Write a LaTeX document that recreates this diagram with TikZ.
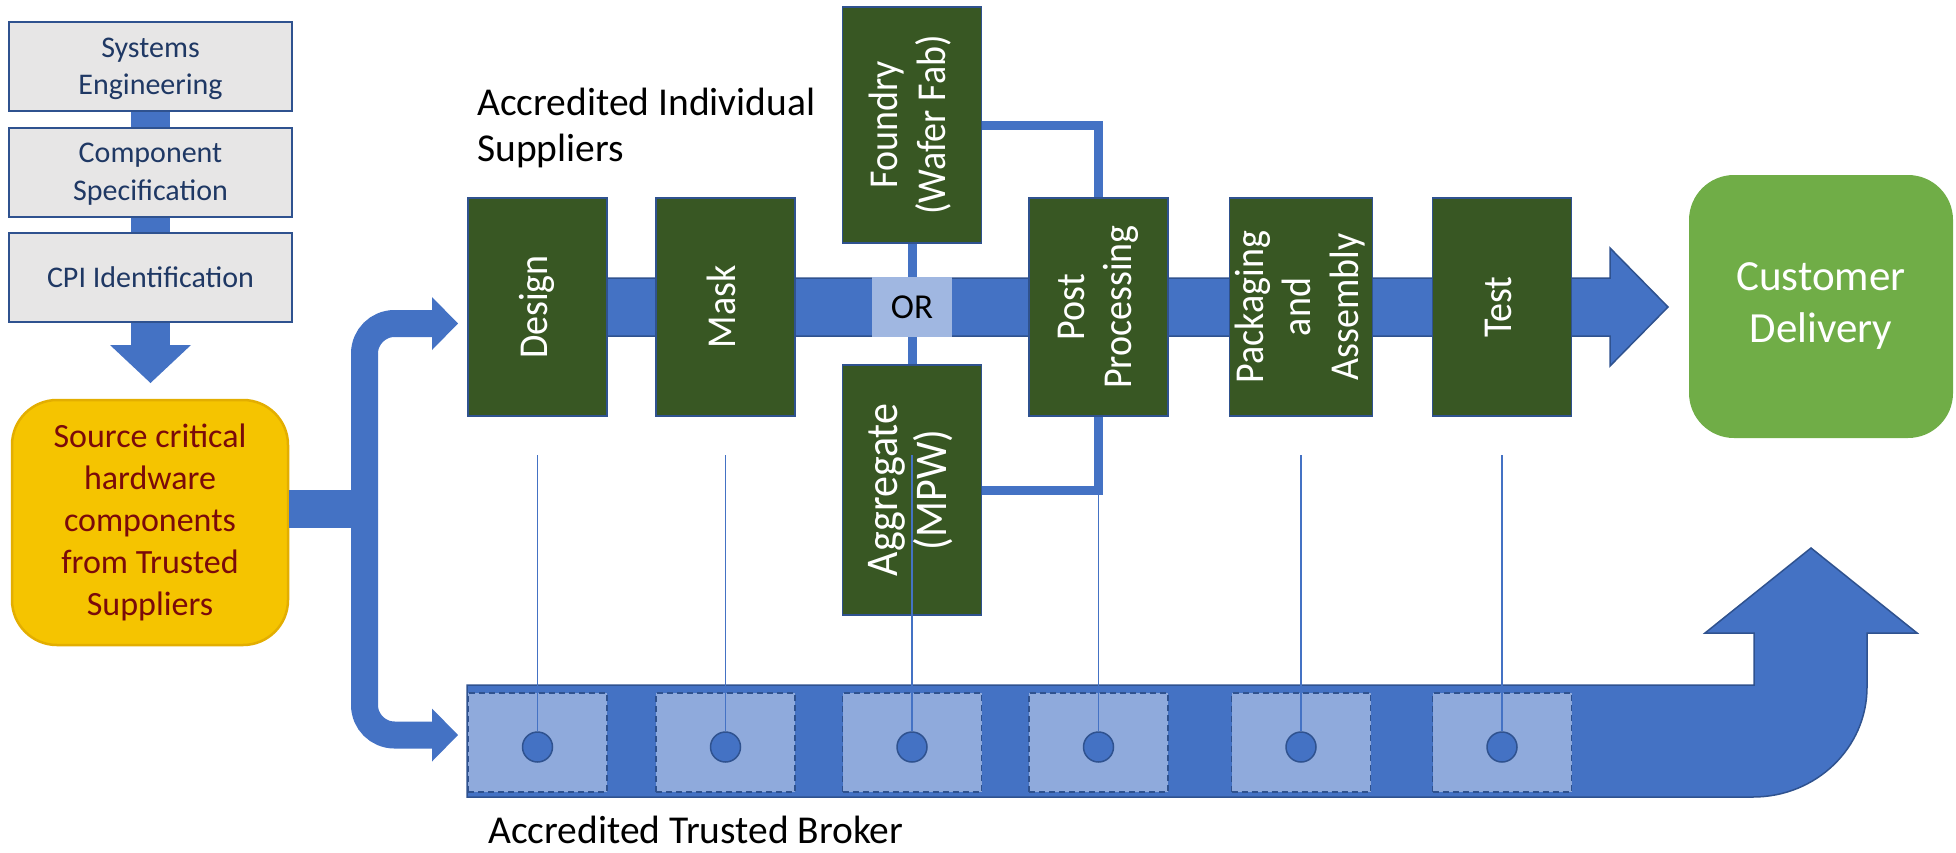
\documentclass[tikz,border=0pt]{standalone}
\usepackage{fontspec}
\setmainfont{Carlito}
\usepackage{graphicx}
\usetikzlibrary{arrows.meta}

\definecolor{barblue}{HTML}{4472C4}
\definecolor{edgeblue}{HTML}{2F528F}
\definecolor{boxgray}{HTML}{E7E6E6}
\definecolor{navytext}{HTML}{1F3864}
\definecolor{leafgreen}{HTML}{385723}
\definecolor{custgreen}{HTML}{70AD47}
\definecolor{gold}{HTML}{F5C400}
\definecolor{golddark}{HTML}{E3AE00}
\definecolor{maroon}{HTML}{7A0A0A}
\definecolor{orfill}{HTML}{A0B7E1}
\definecolor{slotblue}{HTML}{8FAADC}

\newcommand{\vlabel}[1]{\rotatebox{90}{\scalebox{1}[1.08]{\begin{tabular}{@{}c@{}}#1\end{tabular}}}}

\begin{document}
\begin{tikzpicture}[x=1pt, y=-1pt,
    every node/.style={inner sep=0pt},
    sysbox/.style={draw=edgeblue, line width=2pt, fill=boxgray, text=navytext,
        minimum width=283pt, minimum height=89pt, align=center, text depth=0pt,
        font=\fontsize{30}{37.5}\selectfont},
    source/.style={rounded corners=45pt, fill=gold, draw=golddark, line width=2.5pt,
        text=maroon, minimum width=276pt, minimum height=245pt, align=center,
        font=\fontsize{34}{42}\selectfont},
    leaf/.style={draw=edgeblue, line width=1.5pt, fill=leafgreen, text=white,
        minimum width=139pt, font=\fontsize{38}{44}\selectfont},
    orbox/.style={fill=orfill, minimum width=80pt, minimum height=60pt,
        font=\fontsize{35}{40}\selectfont},
    deliver/.style={rounded corners=45pt, fill=custgreen, text=white,
        minimum width=264pt, minimum height=263pt, align=center,
        font=\fontsize{43}{52}\selectfont},
    slot/.style={draw=edgeblue, dash pattern=on 6pt off 4pt, line width=1.5pt,
        fill=slotblue, minimum width=139pt, minimum height=99pt},
    dot/.style={circle, draw=edgeblue, line width=1.5pt, fill=barblue, minimum size=30pt},
    link/.style={draw=barblue, line width=9pt},
    tether/.style={draw=barblue, line width=1.2pt},
    fat/.style={draw=barblue, line width=#1},
    caption/.style={anchor=base west, align=left, font=\fontsize{39.5}{46}\selectfont}
]
\useasboundingbox (0,0) rectangle (1956,852);

% --- BROKER BAND (turns up to delivery) ---
\filldraw[fill=barblue, draw=edgeblue, line width=1.5pt]
    (467,685) -- (1754,685) -- (1754,633) -- (1705,633) -- (1811,548)
    -- (1917,633) -- (1867,633) -- (1867,687)
    .. controls (1867,748) and (1816,797) .. (1753,797) -- (467,797) -- cycle;

% --- SUPPLIER BAND ---
\filldraw[fill=barblue, draw=edgeblue, line width=1.5pt]
    (468,278) -- (1610,278) -- (1610,248) -- (1668,307) -- (1610,366)
    -- (1610,336) -- (468,336) -- cycle;

% --- LEFT COLUMN ---
\node[sysbox] (syseng) at (150.5,66.5) {Systems\\Engineering};
\node[sysbox] (compspec) at (150.5,172) {Component\\Specification};
\node[sysbox] (cpi) at (150.5,277.5) {CPI Identification};
\coordinate (cpitip) at (150.5,383);
\node[source] (src) at (150,522.5) {Source critical\\hardware\\components\\from Trusted\\Suppliers};

\draw[fat=39pt] (syseng.south) -- (compspec.north);
\draw[fat=39pt] (compspec.south) -- (cpi.north);
\draw[fat=39pt, -{Triangle[length=38pt, width=81pt, line width=0pt]}] (cpi.south) -- (cpitip);

% --- FORK TO BOTH ROUTES ---
\coordinate (fork) at (364.5,509);
\coordinate (inA) at (458,323.5);
\coordinate (inB) at (458,735);
\draw[fat=38pt] (src.east |- fork) -- (fork);
\draw[fat=27pt, rounded corners=30pt, -{Triangle[length=26pt, width=53pt, line width=0pt]}] (fork) |- (inA);
\draw[fat=27pt, rounded corners=30pt, -{Triangle[length=26pt, width=53pt, line width=0pt]}] (fork) |- (inB);

% --- INDIVIDUAL SUPPLIERS ---
\node[leaf, minimum height=218pt] (design) at (537.5,307) {\vlabel{Design}};
\node[leaf, minimum height=218pt] (mask) at (725.5,307) {\vlabel{Mask}};
\node[leaf, minimum height=236pt] (foundry) at (912,125) {\vlabel{Foundry\\(Wafer Fab)}};
\node[orbox] (or) at (912,307) {OR};
\node[leaf, minimum height=250pt, font=\fontsize{42}{46}\selectfont] (aggr) at (912,490) {\vlabel{Aggregate\\(MPW)}};
\node[leaf, minimum height=218pt] (post) at (1098.5,307) {\vlabel{Post\\Processing}};
\node[leaf, minimum height=218pt] (pack) at (1301,307) {\vlabel{Packaging\\and\\Assembly}};
\node[leaf, minimum height=218pt] (test) at (1502,307) {\vlabel{Test}};
\node[deliver] (cust) at (1821,306.5) {Customer\\Delivery};

\draw[link] (foundry.south) -- (or.north);
\draw[link] (or.south) -- (aggr.north);
\draw[link] (foundry.east) -| (post.north);
\draw[link] (aggr.east) -| (post.south);

% --- TRUSTED BROKER SLOTS ---
\foreach \x [count=\i] in {537.5,725.5,912,1098.5,1301,1502} {
    \node[slot] (s\i) at (\x,742.5) {};
    \node[dot] (c\i) at (\x,747) {};
    \coordinate (t\i) at (\x,455);
}
\foreach \i in {1,...,6}
    \draw[tether] (t\i) -- (c\i.north);

\node[caption] (indiv) at (477,161) {Accredited Individual\\Suppliers};
\node[caption] (broker) at (488,843) {Accredited Trusted Broker};

\end{tikzpicture}
\end{document}
